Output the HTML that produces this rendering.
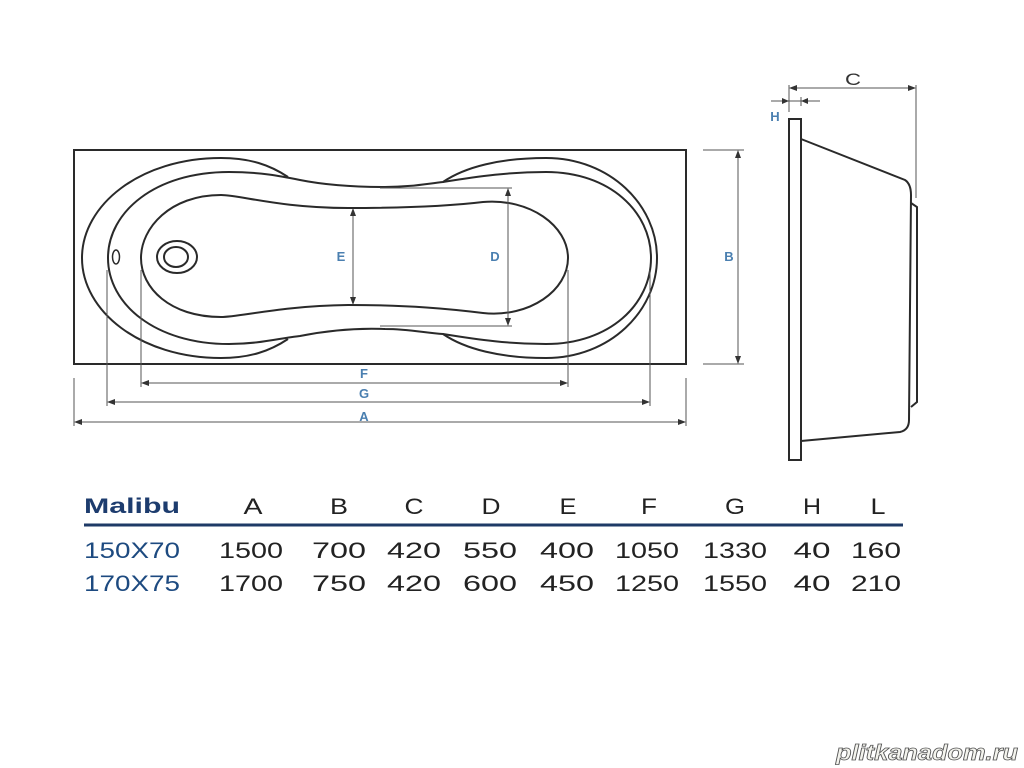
<!DOCTYPE html>
<html><head><meta charset="utf-8"><style>
html,body{margin:0;padding:0;background:#fff;width:1024px;height:768px;overflow:hidden}
svg{display:block}
</style></head><body>
<svg width="1024" height="768" viewBox="0 0 1024 768" xmlns="http://www.w3.org/2000/svg" font-family="Liberation Sans, sans-serif">
<g fill="none" stroke="#2a2a2a" stroke-width="2">
<rect x="74" y="150" width="612" height="214"/>
<path d="M288,177 C270,165 250,158 221,158 C140,158 82,205 82,258 C82,311 140,358 221,358 C250,358 270,351 288,339"/>
<path d="M443,182 C465,167 500,158 546,158 C610,158 657,205 657,258 C657,311 610,358 546,358 C500,358 465,349 443,334"/>
<path d="M229,172 C155,172 108,212 108,258 C108,304 155,344 229,344 C260,344 280,338 300,336 C330,330 360,328 385,329 C410,329 425,333 443,334 C480,340 510,344 546,344 C610,344 651,304 651,258 C651,212 610,172 546,172 C510,172 480,176 443,182 C425,184 410,187 385,187 C360,187 330,186 300,180 C280,176 260,172 229,172 Z"/>
<path d="M221,195 C170,195 141,228 141,258 C141,288 170,317 221,317 C240,317 280,306 348,305 C410,305 450,309 483,313 C530,318 568,290 568,258 C568,226 530,198 483,202 C450,206 410,208 348,208 C280,208 240,195 221,195 Z"/>
<ellipse cx="177" cy="257" rx="20" ry="16"/>
<ellipse cx="176" cy="257" rx="12" ry="10"/>
<ellipse cx="116" cy="257" rx="3.5" ry="7" stroke-width="1.5"/>
<rect x="789" y="119" width="12" height="341"/>
<path d="M801,139 L905,180 Q911,184 911,195 L909,420 Q909,430 900,432 L801,441"/>
<path d="M911,203 L917,207 L917,402 L911,407"/>
</g>
<g stroke="#555" stroke-width="1" fill="none">
<line x1="353" y1="210" x2="353" y2="303"/>
<line x1="508" y1="190" x2="508" y2="324"/>
<line x1="380" y1="188" x2="512" y2="188"/>
<line x1="380" y1="326" x2="512" y2="326"/>
<line x1="141" y1="270" x2="141" y2="387"/>
<line x1="568" y1="270" x2="568" y2="387"/>
<line x1="143" y1="383" x2="566" y2="383"/>
<line x1="107" y1="270" x2="107" y2="406"/>
<line x1="650" y1="270" x2="650" y2="406"/>
<line x1="109" y1="402" x2="648" y2="402"/>
<line x1="74" y1="378" x2="74" y2="426"/>
<line x1="686" y1="378" x2="686" y2="426"/>
<line x1="76" y1="422" x2="684" y2="422"/>
<line x1="703" y1="150" x2="744" y2="150"/>
<line x1="703" y1="364" x2="744" y2="364"/>
<line x1="738" y1="152" x2="738" y2="362"/>
<line x1="789" y1="85" x2="789" y2="112"/>
<line x1="791" y1="88" x2="914" y2="88"/>
<line x1="916" y1="85" x2="916" y2="198"/>
<line x1="771" y1="101" x2="820" y2="101"/>
<line x1="801" y1="97" x2="801" y2="106"/>
</g>
<g fill="#333">
<path d="M353,208 l-3,8 h6z M353,305 l-3,-8 h6z"/>
<path d="M508,188 l-3,8 h6z M508,326 l-3,-8 h6z"/>
<path d="M141,383 l8,-3 v6z M568,383 l-8,-3 v6z"/>
<path d="M107,402 l8,-3 v6z M650,402 l-8,-3 v6z"/>
<path d="M74,422 l8,-3 v6z M686,422 l-8,-3 v6z"/>
<path d="M738,150 l-3,8 h6z M738,364 l-3,-8 h6z"/>
<path d="M789,88 l8,-3 v6z M916,88 l-8,-3 v6z"/>
<path d="M789,101 l-7,-3 v6z M801,101 l7,-3 v6z"/>
</g>
<g fill="#4a7fb0" font-size="13" text-anchor="middle" font-weight="bold">
<text x="341" y="261">E</text>
<text x="495" y="261">D</text>
<text x="364" y="378">F</text>
<text x="364" y="398">G</text>
<text x="364" y="421">A</text>
<text x="729" y="261">B</text>
<text x="775" y="121">H</text>
</g>
<text x="853" y="85" font-size="17" text-anchor="middle" fill="#333" textLength="16" lengthAdjust="spacingAndGlyphs">C</text>
<text x="84" y="513" font-size="21" font-weight="bold" fill="#1d3c6e" textLength="96" lengthAdjust="spacingAndGlyphs">Malibu</text>
<line x1="84" y1="525" x2="903" y2="525" stroke="#1e3a66" stroke-width="3"/>
<g font-size="22" text-anchor="middle" fill="#222" lengthAdjust="spacingAndGlyphs">
<text x="253" y="514" textLength="19" lengthAdjust="spacingAndGlyphs">A</text><text x="339" y="514" textLength="18" lengthAdjust="spacingAndGlyphs">B</text><text x="414" y="514" textLength="19" lengthAdjust="spacingAndGlyphs">C</text><text x="491" y="514" textLength="19" lengthAdjust="spacingAndGlyphs">D</text><text x="568" y="514" textLength="17" lengthAdjust="spacingAndGlyphs">E</text><text x="649" y="514" textLength="16" lengthAdjust="spacingAndGlyphs">F</text><text x="735" y="514" textLength="20" lengthAdjust="spacingAndGlyphs">G</text><text x="812" y="514" textLength="18" lengthAdjust="spacingAndGlyphs">H</text><text x="878" y="514" textLength="15" lengthAdjust="spacingAndGlyphs">L</text>
<text x="251" y="558" textLength="64" lengthAdjust="spacingAndGlyphs">1500</text><text x="339" y="558" textLength="54" lengthAdjust="spacingAndGlyphs">700</text><text x="414" y="558" textLength="54" lengthAdjust="spacingAndGlyphs">420</text><text x="490" y="558" textLength="54" lengthAdjust="spacingAndGlyphs">550</text><text x="567" y="558" textLength="54" lengthAdjust="spacingAndGlyphs">400</text><text x="647" y="558" textLength="64" lengthAdjust="spacingAndGlyphs">1050</text><text x="735" y="558" textLength="64" lengthAdjust="spacingAndGlyphs">1330</text><text x="812" y="558" textLength="37" lengthAdjust="spacingAndGlyphs">40</text><text x="876" y="558" textLength="50" lengthAdjust="spacingAndGlyphs">160</text>
<text x="251" y="591" textLength="64" lengthAdjust="spacingAndGlyphs">1700</text><text x="339" y="591" textLength="54" lengthAdjust="spacingAndGlyphs">750</text><text x="414" y="591" textLength="54" lengthAdjust="spacingAndGlyphs">420</text><text x="490" y="591" textLength="54" lengthAdjust="spacingAndGlyphs">600</text><text x="567" y="591" textLength="54" lengthAdjust="spacingAndGlyphs">450</text><text x="647" y="591" textLength="64" lengthAdjust="spacingAndGlyphs">1250</text><text x="735" y="591" textLength="64" lengthAdjust="spacingAndGlyphs">1550</text><text x="812" y="591" textLength="37" lengthAdjust="spacingAndGlyphs">40</text><text x="876" y="591" textLength="50" lengthAdjust="spacingAndGlyphs">210</text>
</g>
<text x="84" y="558" font-size="22" fill="#1d4a80" textLength="96" lengthAdjust="spacingAndGlyphs">150X70</text>
<text x="84" y="591" font-size="22" fill="#1d4a80" textLength="96" lengthAdjust="spacingAndGlyphs">170X75</text>
<text x="836" y="760" font-size="22" font-weight="bold" font-style="italic" fill="#f4f4ee" stroke="#555" stroke-width="0.8" textLength="182" lengthAdjust="spacingAndGlyphs">plitkanadom.ru</text>
</svg>
</body></html>
